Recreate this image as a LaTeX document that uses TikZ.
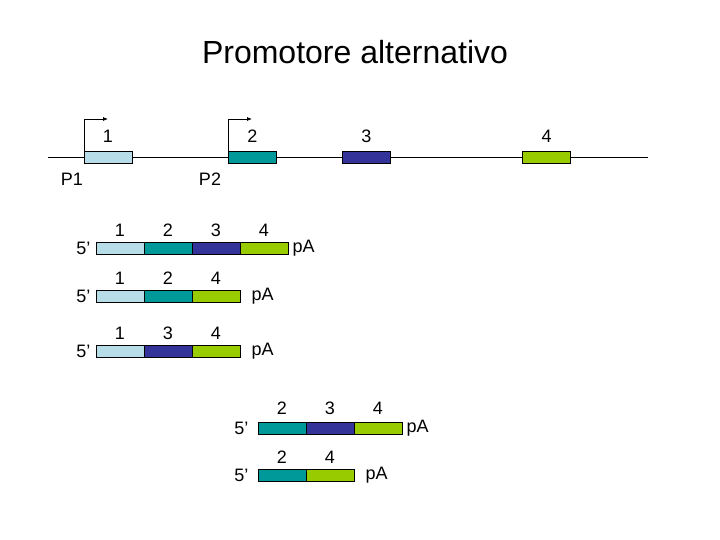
\documentclass[tikz,border=0pt]{standalone}
\usepackage{fontspec}
\setmainfont{Liberation Sans}
\usetikzlibrary{arrows.meta,positioning}
\tikzset{every picture/.style={line width=0.75pt}}

\definecolor{exA}{HTML}{B7DEE8}
\definecolor{exB}{HTML}{009999}
\definecolor{exC}{HTML}{333399}
\definecolor{exD}{HTML}{99CC00}

\begin{document}
\begin{tikzpicture}[x=1pt, y=-1pt,
    exon/.style={draw, minimum width=48pt, minimum height=12pt, inner sep=0pt, outer sep=0pt},
    lbl/.style={font=\fontsize{18}{20}\selectfont},
    prom/.style={-{Latex[length=5pt,width=4pt]}}]
    \useasboundingbox (0,0) rectangle (720,540);
    % titolo
    \node[font=\fontsize{32}{36}\selectfont] (title) at (355,52) {Promotore alternativo};
    % gene con due promotori
    \coordinate (gl) at (48,157);
    \coordinate (gr) at (648,157);
    \draw (gl) -- (gr);
    \node[exon, fill=exA] (e1) at (108,157) {};
    \node[exon, fill=exB] (e2) at (252.5,157) {};
    \node[exon, fill=exC] (e3) at (366.5,157) {};
    \node[exon, fill=exD] (e4) at (546.5,157) {};
    \node[lbl, above=5pt of e1] (t1) {1};
    \node[lbl, above=5pt of e2] (t2) {2};
    \node[lbl, above=5pt of e3] (t3) {3};
    \node[lbl, above=5pt of e4] (t4) {4};
    \coordinate (a1) at (108,119);
    \coordinate (a2) at (252,119);
    \draw[prom] (e1.north west) |- (a1);
    \draw[prom] (e2.north west) |- (a2);
    \node[lbl] (p1) at (72,179) {P1};
    \node[lbl] (p2) at (210,179) {P2};
    % trascritti da P1
    \node[exon, fill=exA] (r1a) at (120,248) {};
    \node[exon, fill=exB, right=0pt of r1a] (r1b) {};
    \node[exon, fill=exC, right=0pt of r1b] (r1c) {};
    \node[exon, fill=exD, right=0pt of r1c] (r1d) {};
    \node[lbl, above=2pt of r1a] (n1a) {1};
    \node[lbl, above=2pt of r1b] (n1b) {2};
    \node[lbl, above=2pt of r1c] (n1c) {3};
    \node[lbl, above=2pt of r1d] (n1d) {4};
    \node[lbl, left=2pt of r1a] (c1) {5’};
    \node[lbl, right=1pt of r1d] (pa1) {pA};

    \node[exon, fill=exA] (r2a) at (120,296) {};
    \node[exon, fill=exB, right=0pt of r2a] (r2b) {};
    \node[exon, fill=exD, right=0pt of r2b] (r2c) {};
    \node[lbl, above=2pt of r2a] (n2a) {1};
    \node[lbl, above=2pt of r2b] (n2b) {2};
    \node[lbl, above=2pt of r2c] (n2c) {4};
    \node[lbl, left=2pt of r2a] (c2) {5’};
    \node[lbl, right=8pt of r2c] (pa2) {pA};

    \node[exon, fill=exA] (r3a) at (120,351) {};
    \node[exon, fill=exC, right=0pt of r3a] (r3b) {};
    \node[exon, fill=exD, right=0pt of r3b] (r3c) {};
    \node[lbl, above=2pt of r3a] (n3a) {1};
    \node[lbl, above=2pt of r3b] (n3b) {3};
    \node[lbl, above=2pt of r3c] (n3c) {4};
    \node[lbl, left=2pt of r3a] (c3) {5’};
    \node[lbl, right=8pt of r3c] (pa3) {pA};
    % trascritti da P2
    \node[exon, fill=exB] (r4a) at (282,428) {};
    \node[exon, fill=exC, right=0pt of r4a] (r4b) {};
    \node[exon, fill=exD, right=0pt of r4b] (r4c) {};
    \node[lbl, above=4pt of r4a] (n4a) {2};
    \node[lbl, above=4pt of r4b] (n4b) {3};
    \node[lbl, above=4pt of r4c] (n4c) {4};
    \node[lbl, left=6pt of r4a] (c4) {5’};
    \node[lbl, right=1pt of r4c] (pa4) {pA};

    \node[exon, fill=exB] (r5a) at (282,475.5) {};
    \node[exon, fill=exD, right=0pt of r5a] (r5b) {};
    \node[lbl, above=2pt of r5a] (n5a) {2};
    \node[lbl, above=2pt of r5b] (n5b) {4};
    \node[lbl, left=6pt of r5a] (c5) {5’};
    \node[lbl, right=8pt of r5b] (pa5) {pA};
\end{tikzpicture}
\end{document}
